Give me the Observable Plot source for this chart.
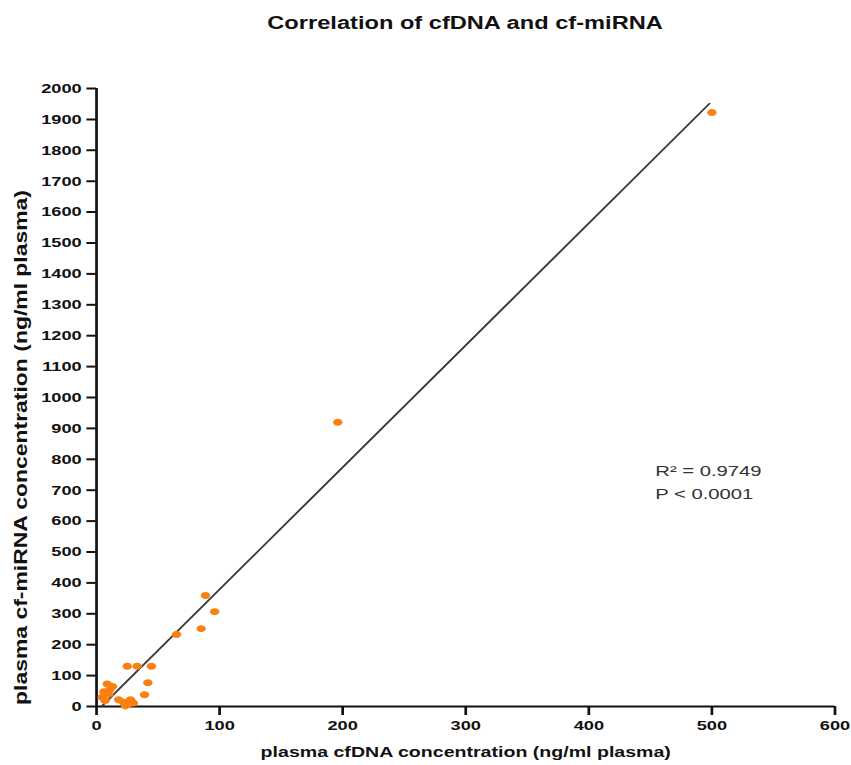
<!DOCTYPE html>
<html>
<head>
<meta charset="utf-8">
<script src="https://cdn.jsdelivr.net/npm/d3@7"></script>
<script src="https://cdn.jsdelivr.net/npm/@observablehq/plot@0.6"></script>
<style>
  body { margin: 0; background: #fff; font-family: "Liberation Sans", Arial, sans-serif; overflow: hidden; }
  #wrap { width: 630px; transform: scaleX(1.35); transform-origin: 0 0; }
  #title { height: 40px; line-height: 46px; box-sizing: border-box; padding-left: 71px; padding-right: 12px; width: 630px; text-align: center; font-weight: bold; font-size: 17.5px; color: #111; }
</style>
</head>
<body>
<div id="wrap">
<div id="title">Correlation of cfDNA and cf-miRNA</div>
<div id="chart"></div>
</div>
<script>
// plasma cfDNA concentration (ng/ml plasma)
const cfDNA = [500, 196, 88.5, 96, 85, 65, 44.6, 33, 25, 41.7, 39, 8.7, 11, 6, 4.6, 7, 13, 10, 18, 22, 23.5, 27.6, 30, 26];
// plasma cf-miRNA concentration (ng/ml plasma)
const miRNA = [1922, 920, 359, 307, 252, 233, 130, 130, 130, 77, 38, 73, 55, 48, 30, 19, 65, 40, 22, 14, 2, 22, 11, 8];
// regression line end points
const fitX = [4, 498];
const fitY = [0, 1951];
// axis ticks
const xTicks = [0, 100, 200, 300, 400, 500, 600];
const yTicks = d3.range(0, 2001, 100);
// annotation
const annoText = ["R\u00B2 = 0.9749", "P < 0.0001"];
const annoX = [454, 454];
const annoY = [760, 686];

const points = cfDNA.map((x, i) => ({x, y: miRNA[i]}));
const fit = fitX.map((x, i) => ({x, y: fitY[i]}));
const anno = annoText.map((t, i) => ({t, x: annoX[i], y: annoY[i]}));

const chart = Plot.plot({
  width: 630,
  height: 725,
  marginLeft: 71,
  marginRight: 12,
  marginTop: 48,
  marginBottom: 59,
  style: {fontFamily: "Liberation Sans, Arial, sans-serif", color: "#111", background: "#fff"},
  x: {domain: [0, 600], ticks: xTicks},
  y: {domain: [0, 2000], ticks: yTicks},
  marks: [
    Plot.axisX({ticks: xTicks, tickSize: 9, tickPadding: 5, tickFormat: d => String(d), strokeWidth: 2, fontSize: 13.5, fontWeight: "bold", label: null, stroke: "#111"}),
    Plot.axisY({ticks: yTicks, tickSize: 7, tickPadding: 4, tickFormat: d => String(d), strokeWidth: 2, fontSize: 13.5, fontWeight: "bold", label: null, stroke: "#111"}),
    Plot.ruleX([0], {stroke: "#111", strokeWidth: 2}),
    Plot.ruleY([0], {stroke: "#111", strokeWidth: 2}),
    Plot.line(fit, {x: "x", y: "y", stroke: "#3a3a3a", strokeWidth: 1.6}),
    Plot.dot(points, {x: "x", y: "y", r: 3.5, fill: "#fb8012", stroke: "none"}),
    Plot.text(anno, {x: "x", y: "y", text: "t", textAnchor: "start", fontSize: 15, fill: "#333"}),
    Plot.text(["plasma cfDNA concentration (ng/ml plasma)"], {frameAnchor: "bottom", dy: 50, fontSize: 14.5, fontWeight: "bold", fill: "#111"}),
    Plot.text(["plasma cf-miRNA concentration (ng/ml plasma)"], {className: "ylab", frameAnchor: "left", textAnchor: "middle", rotate: -90, dx: -56, dy: 50, fontSize: 13, fontWeight: "bold", fill: "#111"})
  ]
});
d3.select(chart).selectAll(".ylab text").attr("textLength", 515).attr("lengthAdjust", "spacingAndGlyphs");
document.getElementById("chart").appendChild(chart);
</script>
</body>
</html>
